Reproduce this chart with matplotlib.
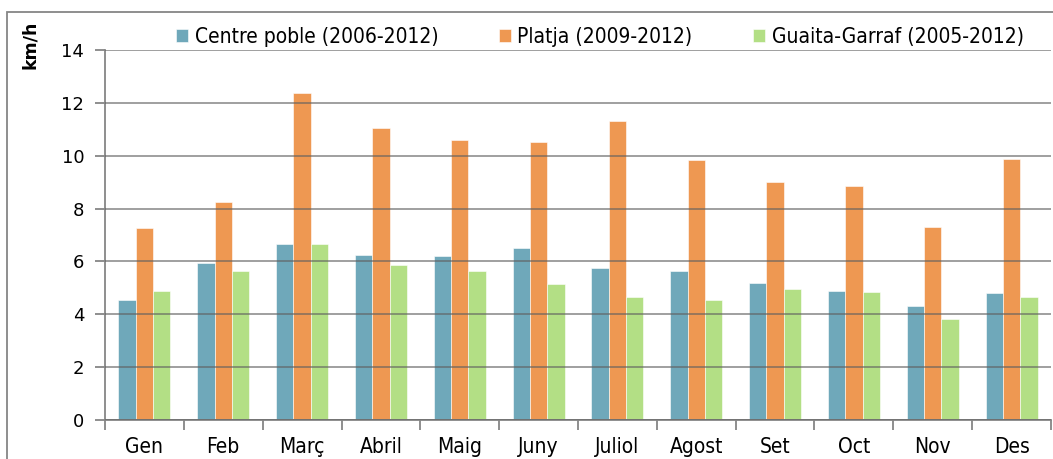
import numpy as np
import matplotlib.pyplot as plt
from matplotlib import font_manager
from matplotlib.patches import Rectangle

mesos = ["Gen", "Feb", "Març", "Abril", "Maig", "Juny", "Juliol", "Agost", "Set", "Oct", "Nov", "Des"]
centre = [4.55, 5.94, 6.65, 6.24, 6.22, 6.49, 5.74, 5.65, 5.17, 4.88, 4.33, 4.82]
platja = [7.26, 8.26, 12.37, 11.06, 10.58, 10.51, 11.31, 9.83, 9.00, 8.86, 7.32, 9.87]
guaita = [4.87, 5.65, 6.65, 5.88, 5.62, 5.14, 4.64, 4.54, 4.97, 4.85, 3.82, 4.64]
series = ["Centre poble (2006-2012)", "Platja (2009-2012)", "Guaita-Garraf (2005-2012)"]
colors = ["#6FA8BA", "#EE9852", "#B3DF85"]

# busquem una font estreta (condensed) si n'hi ha
cond = None
for f in font_manager.fontManager.ttflist:
    if "Condensed" in f.fname and "Bold" not in f.fname and "Oblique" not in f.fname \
            and "Italic" not in f.fname and "Sans" in f.fname and "Mono" not in f.fname:
        cond = f.fname
        break
if cond:
    fp = lambda s: font_manager.FontProperties(fname=cond, size=s)
    mida = 15
else:
    fp = lambda s: font_manager.FontProperties(family="DejaVu Sans", size=s)
    mida = 13

fig = plt.figure(figsize=(10.53, 4.59), dpi=100)
ax = fig.add_axes([105 / 1053, 1 - 420 / 459, 946 / 1053, 370 / 459])

x = np.arange(len(mesos))
w = 0.22
for i, (vals, nom) in enumerate(zip([centre, platja, guaita], series)):
    ax.bar(x + (i - 1) * w, vals, w, color=colors[i], label=nom,
           edgecolor="white", linewidth=0.4, zorder=2)

ax.set_xlim(-0.5, len(mesos) - 0.5)
ax.set_ylim(0, 14)
ax.set_yticks(range(0, 15, 2))
ax.yaxis.grid(True, color="#606060", linewidth=1.3, alpha=0.65, zorder=3)
ax.set_axisbelow(False)

ax.set_xticks(x)
ax.set_xticklabels(mesos)
for t in ax.get_xticklabels():
    t.set_fontproperties(fp(mida))
ax.set_xticks(np.arange(-0.5, len(mesos)), minor=True)
ax.tick_params(axis="x", which="major", length=0, pad=12)
ax.tick_params(axis="x", which="minor", length=7, color="#868686", width=1.3)
ax.tick_params(axis="y", length=7, color="#868686", width=1.3, labelsize=13, pad=8)

for s in ["top", "right"]:
    ax.spines[s].set_visible(False)
for s in ["left", "bottom"]:
    ax.spines[s].set_color("#868686")
    ax.spines[s].set_linewidth(1.3)

fig.text(30 / 1053, 1 - 45 / 459, "km/h", rotation=90, fontsize=12.5, fontweight="bold",
         ha="center", va="center")

leg = ax.legend(loc="lower center", bbox_to_anchor=(0.523, 0.985), ncol=3, frameon=False,
                prop=fp(mida), handlelength=0.6, handleheight=0.6,
                handletextpad=0.3, columnspacing=2.9, borderaxespad=0)

# vora exterior del gràfic
fig.patches.append(Rectangle((7 / 1053, -0.1), 1.2, 1 - 12 / 459 + 0.1, transform=fig.transFigure,
                             fill=False, edgecolor="#868686", linewidth=1.3))

fig.savefig("out.png", dpi=100)
